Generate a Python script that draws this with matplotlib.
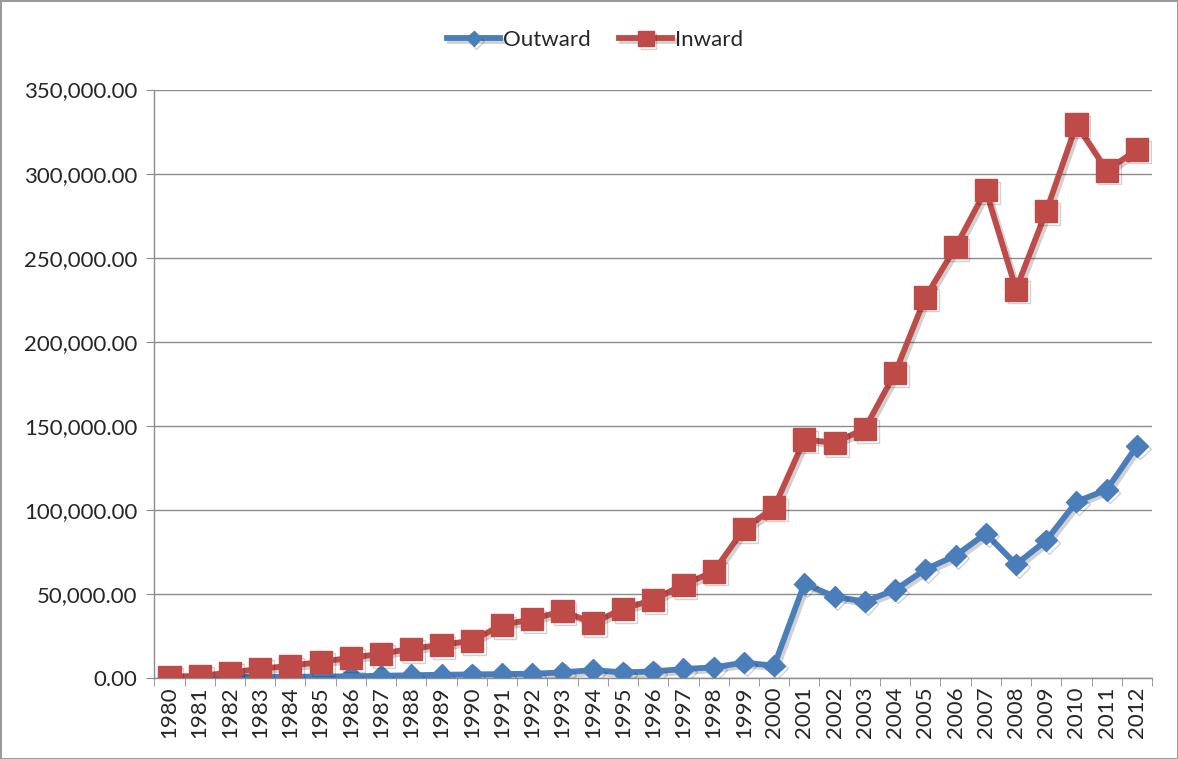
import matplotlib
matplotlib.use("Agg")
import matplotlib.pyplot as plt
import matplotlib.patheffects as pe
from matplotlib.ticker import FuncFormatter, FixedLocator

# data
years = [str(y) for y in range(1980, 2013)]
outward = [100, 200, 400, 500, 600, 700, 900, 1200, 1500, 1800, 2000,
           2200, 2400, 3200, 4600, 3200, 3800, 5200, 6200, 9000, 7200,
           56000, 48300, 45300, 52300, 64500, 72700, 85800, 67500, 81700,
           104800, 111900, 138000]
inward = [600, 1200, 3000, 5400, 7100, 9500, 11900, 14300, 17300, 19600,
          22000, 31500, 34800, 39800, 32600, 41000, 46400, 55400, 63200,
          88500, 101300, 141800, 139800, 148200, 181400, 226300, 256300,
          290200, 231100, 277600, 329200, 301800, 314300]

blue = "#4a7ebb"
red = "#be4b48"
text_col = "#262626"
grid_col = "#8c8c8c"

plt.rcParams['font.family'] = ['Lato', 'DejaVu Sans']

fig = plt.figure(figsize=(11.78, 7.59), dpi=100)
ax = fig.add_axes([0.131, 0.107, 0.847, 0.775])

x = list(range(len(years)))
# soft drop shadow like the excel chart
shadow = [pe.SimpleLineShadow(offset=(2, -2), alpha=0.18), pe.Normal()]

ax.plot(x, outward, color=blue, lw=4.2, marker='D', markersize=11,
        markeredgecolor=blue, label='Outward', path_effects=shadow, zorder=3)
ax.plot(x, inward, color=red, lw=4.2, marker='s', markersize=16,
        markeredgecolor=red, label='Inward', path_effects=shadow, zorder=4)

ax.set_xlim(-0.5, len(years) - 0.5)
ax.set_ylim(0, 350000)
ax.set_yticks(range(0, 350001, 50000))
ax.yaxis.set_major_formatter(FuncFormatter(lambda v, p: f"{v:,.2f}"))

ax.set_xticks(x)
ax.set_xticklabels(years, rotation=90)
ax.xaxis.set_minor_locator(FixedLocator([i - 0.5 for i in range(len(years) + 1)]))
ax.tick_params(axis='x', which='major', length=0, pad=6, labelsize=16, labelcolor=text_col)
ax.tick_params(axis='x', which='minor', length=6, color=grid_col, direction='out')
ax.tick_params(axis='y', length=6, color=grid_col, labelsize=16, labelcolor=text_col, pad=6)

ax.grid(axis='y', color=grid_col, lw=1)
ax.set_axisbelow(True)
for side in ['top', 'right']:
    ax.spines[side].set_visible(False)
for side in ['left', 'bottom']:
    ax.spines[side].set_color(grid_col)
    ax.spines[side].set_linewidth(1)

leg = fig.legend(loc='center', bbox_to_anchor=(0.505, 0.947), ncol=2, frameon=False,
                 fontsize=16, handlelength=2.4, columnspacing=1.3, handletextpad=0.1,
                 markerscale=0.7)
for t in leg.get_texts():
    t.set_color(text_col)

# thin frame around the whole chart
fig.patch.set_edgecolor("#9a9a9a")
fig.patch.set_linewidth(2)

fig.savefig("out.png", dpi=100, edgecolor=fig.get_edgecolor())
